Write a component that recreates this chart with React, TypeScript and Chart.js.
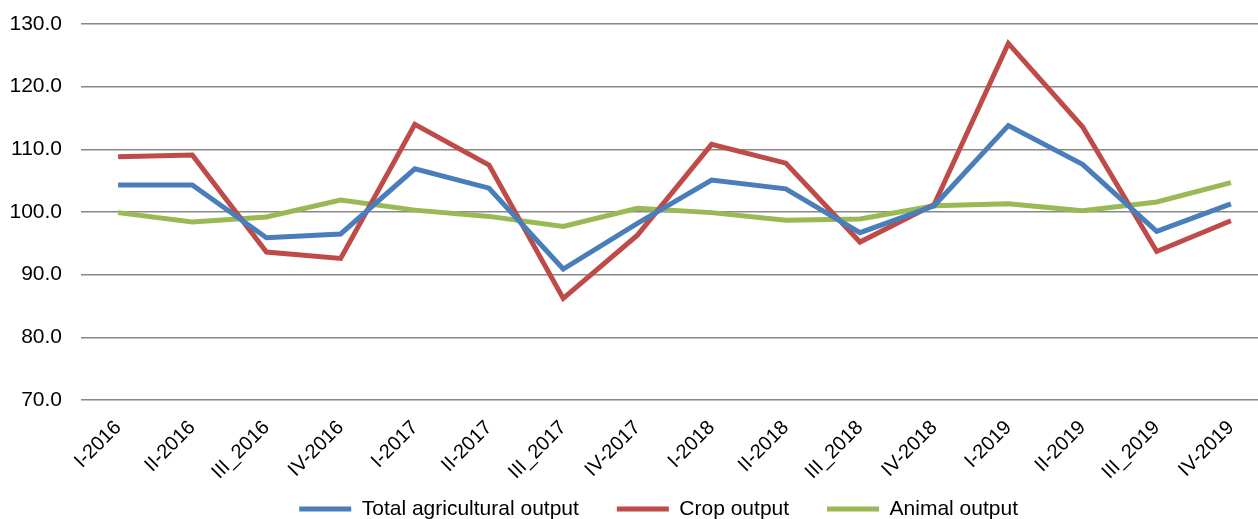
import React, { useEffect, useRef } from "react";
import { Chart, registerables } from "chart.js";

Chart.register(...registerables);

const categories = [
  "I-2016", "II-2016", "III_2016", "IV-2016",
  "I-2017", "II-2017", "III_2017", "IV-2017",
  "I-2018", "II-2018", "III_2018", "IV-2018",
  "I-2019", "II-2019", "III_2019", "IV-2019",
];

const totalOutput = [104.3, 104.3, 95.9, 96.5, 106.9, 103.8, 90.9, 98.2, 105.1, 103.7, 96.7, 101.0, 113.8, 107.6, 96.9, 101.3];
const cropOutput = [108.8, 109.1, 93.6, 92.6, 114.0, 107.5, 86.2, 96.3, 110.8, 107.8, 95.2, 101.2, 126.9, 113.6, 93.7, 98.6];
const animalOutput = [99.9, 98.4, 99.2, 101.9, 100.3, 99.3, 97.7, 100.6, 99.9, 98.7, 98.9, 101.0, 101.3, 100.2, 101.6, 104.7];

const seriesNames = ["Total agricultural output", "Crop output", "Animal output"];
const seriesColors = ["#4A7EBB", "#BE4B48", "#98B954"];

const FONT = "'Liberation Sans', Arial, sans-serif";
const CW = 1268;
const CH = 550;

export default function App() {
  const ref = useRef<HTMLCanvasElement | null>(null);

  useEffect(() => {
    document.body.style.margin = "0";
    document.body.style.overflow = "hidden";
    const canvas = ref.current;
    if (!canvas) return;
    const moveLegend = {
      id: "moveLegend",
      afterLayout(chart: any) {
        const lg = chart.legend;
        if (!lg) return;
        const dx = 24.6;
        const dy = -19.5;
        lg.left += dx;
        lg.right += dx;
        lg.top += dy;
        lg.bottom += dy;
      },
    };
    const data = [totalOutput, cropOutput, animalOutput];
    const chart = new Chart(canvas, {
      type: "line",
      data: {
        labels: categories,
        datasets: data.map((d, i) => ({
          label: seriesNames[i],
          data: d,
          borderColor: seriesColors[i],
          backgroundColor: seriesColors[i],
          borderWidth: 5,
          pointRadius: 0,
          pointHoverRadius: 0,
          tension: 0,
          fill: false,
        })),
      },
      options: {
        animation: false,
        responsive: false,
        maintainAspectRatio: false,
        layout: { padding: { top: 0, right: 0, left: 0, bottom: 0 } },
        scales: {
          x: {
            offset: true,
            grid: { display: false, drawTicks: false },
            border: { display: false },
            ticks: {
              autoSkip: false,
              maxRotation: 45,
              minRotation: 45,
              padding: 16,
              color: "#000",
              font: { family: FONT, size: 20 },
            },
            afterFit: (s: any) => {
              s.height = 80;
              s.paddingTop = 0;
            },
          },
          y: {
            min: 70,
            max: 130,
            border: { display: false },
            grid: { color: "#888888", lineWidth: 1.5, drawTicks: false },
            ticks: {
              stepSize: 10,
              padding: 19,
              color: "#000",
              font: { family: FONT, size: 21 },
              callback: (v: any) => Number(v).toFixed(1),
            },
            afterFit: (s: any) => {
              s.width = 81;
              s.paddingTop = 25;
            },
          },
        },
        plugins: {
          tooltip: { enabled: false },
          legend: {
            position: "bottom",
            labels: {
              boxWidth: 52,
              boxHeight: 5,
              padding: 38,
              color: "#000",
              font: { family: FONT, size: 21 },
              generateLabels: (c: any) =>
                c.data.datasets.map((ds: any, i: number) => ({
                  text: ds.label,
                  fillStyle: seriesColors[i],
                  strokeStyle: seriesColors[i],
                  lineWidth: 0,
                  hidden: false,
                  datasetIndex: i,
                  fontColor: "#000",
                })),
            },
          },
        },
      },
      plugins: [moveLegend],
    });
    return () => chart.destroy();
  }, []);

  return (
    <div style={{ width: 1258, height: 519, overflow: "hidden", position: "relative" }}>
      <canvas ref={ref} width={CW} height={CH} style={{ display: "block", marginTop: -1 }} />
    </div>
  );
}
